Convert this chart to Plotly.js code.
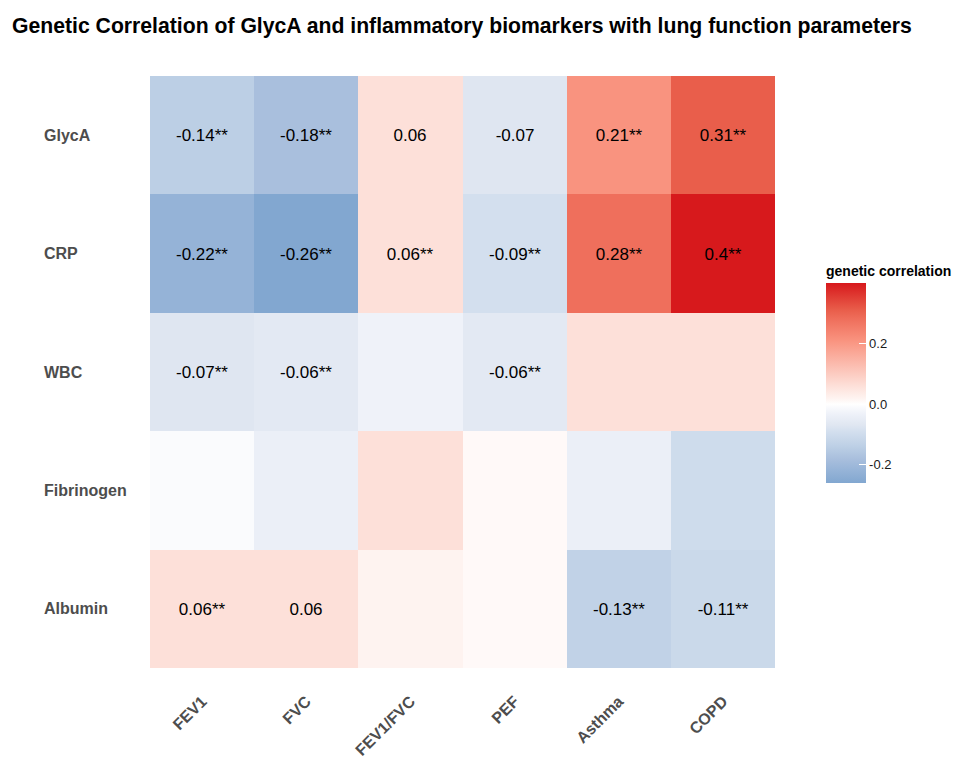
<!DOCTYPE html>
<html>
<head>
<meta charset="utf-8">
<script src="https://cdn.plot.ly/plotly-3.0.1.min.js"></script>
<style>html,body{margin:0;padding:0;background:#fff;}#chart{width:954px;height:764px;}</style>
</head>
<body>
<div id="chart"></div>
<script>
// Data
const traits = ["FEV1", "FVC", "FEV1/FVC", "PEF", "Asthma", "COPD"];
const biomarkers = ["GlycA", "CRP", "WBC", "Fibrinogen", "Albumin"];
const rgGlycA      = [-0.14, -0.18, 0.06, -0.07, 0.21, 0.31];
const rgCRP        = [-0.22, -0.26, 0.06, -0.09, 0.28, 0.40];
const rgWBC        = [-0.07, -0.06, -0.03, -0.06, 0.06, 0.06];
const rgFibrinogen = [-0.01, -0.04, 0.06, 0.01, -0.04, -0.10];
const rgAlbumin    = [0.06, 0.06, 0.02, 0.01, -0.13, -0.11];
const lblGlycA      = ["-0.14**", "-0.18**", "0.06", "-0.07", "0.21**", "0.31**"];
const lblCRP        = ["-0.22**", "-0.26**", "0.06**", "-0.09**", "0.28**", "0.4**"];
const lblWBC        = ["-0.07**", "-0.06**", "", "-0.06**", "", ""];
const lblFibrinogen = ["", "", "", "", "", ""];
const lblAlbumin    = ["0.06**", "0.06", "", "", "-0.13**", "-0.11**"];
const legendTicks = [-0.2, 0.0, 0.2];
const legendTickText = ["-0.2", "0.0", "0.2"];

const z = [rgGlycA, rgCRP, rgWBC, rgFibrinogen, rgAlbumin];
const text = [lblGlycA, lblCRP, lblWBC, lblFibrinogen, lblAlbumin];

const zmin = -0.26, zmax = 0.40;
const stop = v => (v - zmin) / (zmax - zmin);
const colorscale = [
  [0, "#82a7d0"],
  [stop(-0.22), "#95b3d7"],
  [stop(-0.18), "#a9bfdd"],
  [stop(-0.14), "#bccfe5"],
  [stop(-0.09), "#d3dfee"],
  [stop(-0.07), "#dfe6f1"],
  [stop(-0.03), "#eff2f9"],
  [stop(0), "#ffffff"],
  [stop(0.02), "#fef3f0"],
  [stop(0.06), "#fde0d9"],
  [stop(0.21), "#f9937f"],
  [stop(0.28), "#ef6f5c"],
  [stop(0.31), "#e95e4b"],
  [1, "#d7191c"]
];

const FONT = "Liberation Sans, Arial, sans-serif";

const trace = {
  type: "heatmap",
  x: traits,
  y: biomarkers,
  z: z,
  text: text,
  texttemplate: "%{text}",
  textfont: {family: FONT, size: 17, color: "#000000"},
  zmin: zmin,
  zmax: zmax,
  colorscale: colorscale,
  hoverinfo: "x+y+z",
  colorbar: {
    title: {text: "<b>genetic correlation</b>", side: "top",
            font: {family: FONT, size: 14, color: "#000000"}},
    thickness: 40,
    thicknessmode: "pixels",
    len: 221,
    lenmode: "pixels",
    x: 1.0816,
    xanchor: "left",
    xpad: 0,
    y: (668 - 483) / 592,
    yanchor: "bottom",
    ypad: 0,
    outlinewidth: 0,
    tickvals: legendTicks,
    ticktext: legendTickText,
    ticks: "inside",
    ticklen: 7,
    tickcolor: "#ffffff",
    tickfont: {family: FONT, size: 13, color: "#1a1a1a"}
  }
};

const annotations = biomarkers.map(b => ({
  xref: "paper", yref: "y", x: -0.1728, y: b,
  xanchor: "left", yanchor: "middle", showarrow: false,
  text: "<b>" + b + "</b>",
  font: {family: FONT, size: 16, color: "#4d4d4d"}
}));

const layout = {
  width: 954, height: 764,
  margin: {l: 150, r: 179, t: 76, b: 96, autoexpand: false},
  paper_bgcolor: "#ffffff",
  plot_bgcolor: "#ffffff",
  title: {text: "<b>Genetic Correlation of GlycA and inflammatory biomarkers with lung function parameters</b>",
          x: 12 / 954, xanchor: "left", xref: "container", y: 1 - 26 / 764, yanchor: "middle", yref: "container",
          font: {family: FONT, size: 21.2, color: "#000000"}},
  xaxis: {type: "category", tickangle: -45, showgrid: false, zeroline: false, showline: false, ticks: "",
          ticklabelstandoff: 20,
          tickfont: {family: FONT, size: 16, color: "#4d4d4d", weight: "bold"}},
  yaxis: {type: "category", autorange: "reversed", showgrid: false, zeroline: false, showline: false,
          ticks: "", showticklabels: false},
  annotations: annotations,
  font: {family: FONT}
};

Plotly.newPlot("chart", [trace], layout, {displayModeBar: false, staticPlot: true});
</script>
</body>
</html>
